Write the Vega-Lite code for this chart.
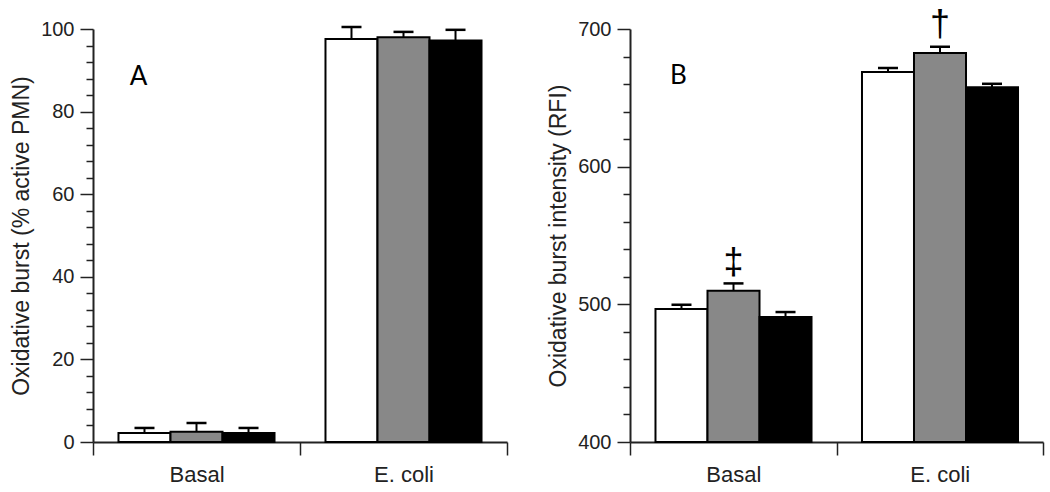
{
  "$schema": "https://vega.github.io/schema/vega-lite/v6.json",
  "background": "white",
  "padding": {"left": 10, "top": 6, "right": 9, "bottom": 5},
  "spacing": 123,
  "bounds": "flush",
  "datasets": {
    "pct": [
      {"cond": "Basal", "grp": "g1", "mean": 2.2, "err": 3.4},
      {"cond": "Basal", "grp": "g2", "mean": 2.5, "err": 4.6},
      {"cond": "Basal", "grp": "g3", "mean": 2.2, "err": 3.4},
      {"cond": "E. coli", "grp": "g1", "mean": 97.6, "err": 100.5},
      {"cond": "E. coli", "grp": "g2", "mean": 98.0, "err": 99.3},
      {"cond": "E. coli", "grp": "g3", "mean": 97.2, "err": 99.8}
    ],
    "rfi": [
      {"cond": "Basal", "grp": "g1", "mean": 496.6, "err": 499.7},
      {"cond": "Basal", "grp": "g2", "mean": 509.9, "err": 515.2},
      {"cond": "Basal", "grp": "g3", "mean": 490.8, "err": 494.4},
      {"cond": "E. coli", "grp": "g1", "mean": 668.7, "err": 671.6},
      {"cond": "E. coli", "grp": "g2", "mean": 682.5, "err": 687.1},
      {"cond": "E. coli", "grp": "g3", "mean": 657.6, "err": 660.2}
    ],
    "panelA": [{"cond": "Basal", "grp": "g1", "y": 88.4, "text": "A"}],
    "panelB": [{"cond": "Basal", "grp": "g1", "y": 665.8, "text": "B"}],
    "sigB": [
      {"cond": "Basal", "grp": "g2", "y": 530, "text": "‡"},
      {"cond": "E. coli", "grp": "g2", "y": 703, "text": "†"}
    ]
  },
  "config": {
    "view": {"stroke": null},
    "font": "Liberation Sans",
    "axis": {
      "grid": false,
      "domainColor": "#222222",
      "domainWidth": 2,
      "tickColor": "#222222",
      "tickWidth": 1.5,
      "labelColor": "#222222",
      "labelFont": "Liberation Sans",
      "titleFont": "Liberation Sans",
      "titleColor": "#222222",
      "titleFontWeight": "normal",
      "labelOverlap": false
    }
  },
  "hconcat": [
    {
      "width": 414,
      "height": 413,
      "resolve": {"axis": {"y": "independent"}},
      "layer": [
        {
          "data": {"name": "pct"},
          "mark": {"type": "bar", "stroke": "black", "strokeWidth": 2},
          "encoding": {
            "x": {
              "field": "cond", "type": "nominal", "sort": ["Basal", "E. coli"],
              "scale": {"paddingInner": 0, "paddingOuter": 0},
              "axis": {"title": null, "labelAngle": 0, "tickBand": "extent", "tickSize": 13, "labelFontSize": 22, "labelPadding": 9}
            },
            "xOffset": {"field": "grp", "type": "nominal", "sort": ["g1", "g2", "g3"], "scale": {"paddingInner": 0, "paddingOuter": 0.49}},
            "y": {
              "field": "mean", "type": "quantitative",
              "scale": {"domain": [0, 100], "nice": false},
              "axis": {
                "orient": "left",
                "title": "Oxidative burst (% active PMN)",
                "titleFontSize": 23,
                "titlePadding": 7,
                "values": [0, 20, 40, 60, 80, 100],
                "tickSize": 13,
                "labelFontSize": 20,
                "labelPadding": 6
              }
            },
            "y2": {"datum": 0},
            "fill": {"field": "grp", "type": "nominal", "scale": {"domain": ["g1", "g2", "g3"], "range": ["#ffffff", "#888888", "#000000"]}, "legend": null}
          }
        },
        {
          "data": {"name": "pct"},
          "mark": {"type": "rule", "color": "black", "strokeWidth": 2},
          "encoding": {
            "x": {"field": "cond", "type": "nominal", "sort": ["Basal", "E. coli"]},
            "xOffset": {"field": "grp", "type": "nominal", "sort": ["g1", "g2", "g3"]},
            "y": {
              "field": "mean", "type": "quantitative",
              "axis": {
                "orient": "left",
                "title": null,
                "domain": false,
                "labels": false,
                "tickSize": 7,
                "values": [4, 8, 12, 16, 24, 28, 32, 36, 44, 48, 52, 56, 64, 68, 72, 76, 84, 88, 92, 96]
              }
            },
            "y2": {"field": "err"}
          }
        },
        {
          "data": {"name": "pct"},
          "mark": {"type": "tick", "color": "black", "size": 20, "thickness": 2.5, "opacity": 1, "orient": "horizontal"},
          "encoding": {
            "x": {"field": "cond", "type": "nominal", "sort": ["Basal", "E. coli"]},
            "xOffset": {"field": "grp", "type": "nominal", "sort": ["g1", "g2", "g3"]},
            "y": {"field": "err", "type": "quantitative", "axis": null}
          }
        },
        {
          "data": {"name": "panelA"},
          "mark": {"type": "text", "font": "Lato", "fontSize": 26, "color": "black", "baseline": "middle", "align": "center", "dx": -6},
          "encoding": {
            "x": {"field": "cond", "type": "nominal", "sort": ["Basal", "E. coli"]},
            "xOffset": {"field": "grp", "type": "nominal", "sort": ["g1", "g2", "g3"]},
            "y": {"field": "y", "type": "quantitative", "axis": null},
            "text": {"field": "text"}
          }
        }
      ]
    },
    {
      "width": 413,
      "height": 413,
      "resolve": {"axis": {"y": "independent"}},
      "layer": [
        {
          "data": {"name": "rfi"},
          "mark": {"type": "bar", "stroke": "black", "strokeWidth": 2},
          "encoding": {
            "x": {
              "field": "cond", "type": "nominal", "sort": ["Basal", "E. coli"],
              "scale": {"paddingInner": 0, "paddingOuter": 0},
              "axis": {"title": null, "labelAngle": 0, "tickBand": "extent", "tickSize": 13, "labelFontSize": 22, "labelPadding": 9}
            },
            "xOffset": {"field": "grp", "type": "nominal", "sort": ["g1", "g2", "g3"], "scale": {"paddingInner": 0, "paddingOuter": 0.49}},
            "y": {
              "field": "mean", "type": "quantitative",
              "scale": {"domain": [400, 700], "nice": false, "zero": false},
              "axis": {
                "orient": "left",
                "title": "Oxidative burst intensity (RFI)",
                "titleFontSize": 23,
                "titlePadding": 7,
                "values": [400, 500, 600, 700],
                "tickSize": 13,
                "labelFontSize": 20,
                "labelPadding": 6
              }
            },
            "y2": {"datum": 400},
            "fill": {"field": "grp", "type": "nominal", "scale": {"domain": ["g1", "g2", "g3"], "range": ["#ffffff", "#888888", "#000000"]}, "legend": null}
          }
        },
        {
          "data": {"name": "rfi"},
          "mark": {"type": "rule", "color": "black", "strokeWidth": 2},
          "encoding": {
            "x": {"field": "cond", "type": "nominal", "sort": ["Basal", "E. coli"]},
            "xOffset": {"field": "grp", "type": "nominal", "sort": ["g1", "g2", "g3"]},
            "y": {
              "field": "mean", "type": "quantitative",
              "axis": {
                "orient": "left",
                "title": null,
                "domain": false,
                "labels": false,
                "tickSize": 7,
                "values": [420, 440, 460, 480, 520, 540, 560, 580, 620, 640, 660, 680]
              }
            },
            "y2": {"field": "err"}
          }
        },
        {
          "data": {"name": "rfi"},
          "mark": {"type": "tick", "color": "black", "size": 20, "thickness": 2.5, "opacity": 1, "orient": "horizontal"},
          "encoding": {
            "x": {"field": "cond", "type": "nominal", "sort": ["Basal", "E. coli"]},
            "xOffset": {"field": "grp", "type": "nominal", "sort": ["g1", "g2", "g3"]},
            "y": {"field": "err", "type": "quantitative", "axis": null}
          }
        },
        {
          "data": {"name": "panelB"},
          "mark": {"type": "text", "font": "Lato", "fontSize": 26, "color": "black", "baseline": "middle", "align": "center", "dx": -3},
          "encoding": {
            "x": {"field": "cond", "type": "nominal", "sort": ["Basal", "E. coli"]},
            "xOffset": {"field": "grp", "type": "nominal", "sort": ["g1", "g2", "g3"]},
            "y": {"field": "y", "type": "quantitative", "axis": null},
            "text": {"field": "text"}
          }
        },
        {
          "data": {"name": "sigB"},
          "mark": {"type": "text", "font": "Liberation Sans", "fontSize": 36, "color": "black", "baseline": "middle", "align": "center"},
          "encoding": {
            "x": {"field": "cond", "type": "nominal", "sort": ["Basal", "E. coli"]},
            "xOffset": {"field": "grp", "type": "nominal", "sort": ["g1", "g2", "g3"]},
            "y": {"field": "y", "type": "quantitative", "axis": null},
            "text": {"field": "text"}
          }
        }
      ]
    }
  ]
}
